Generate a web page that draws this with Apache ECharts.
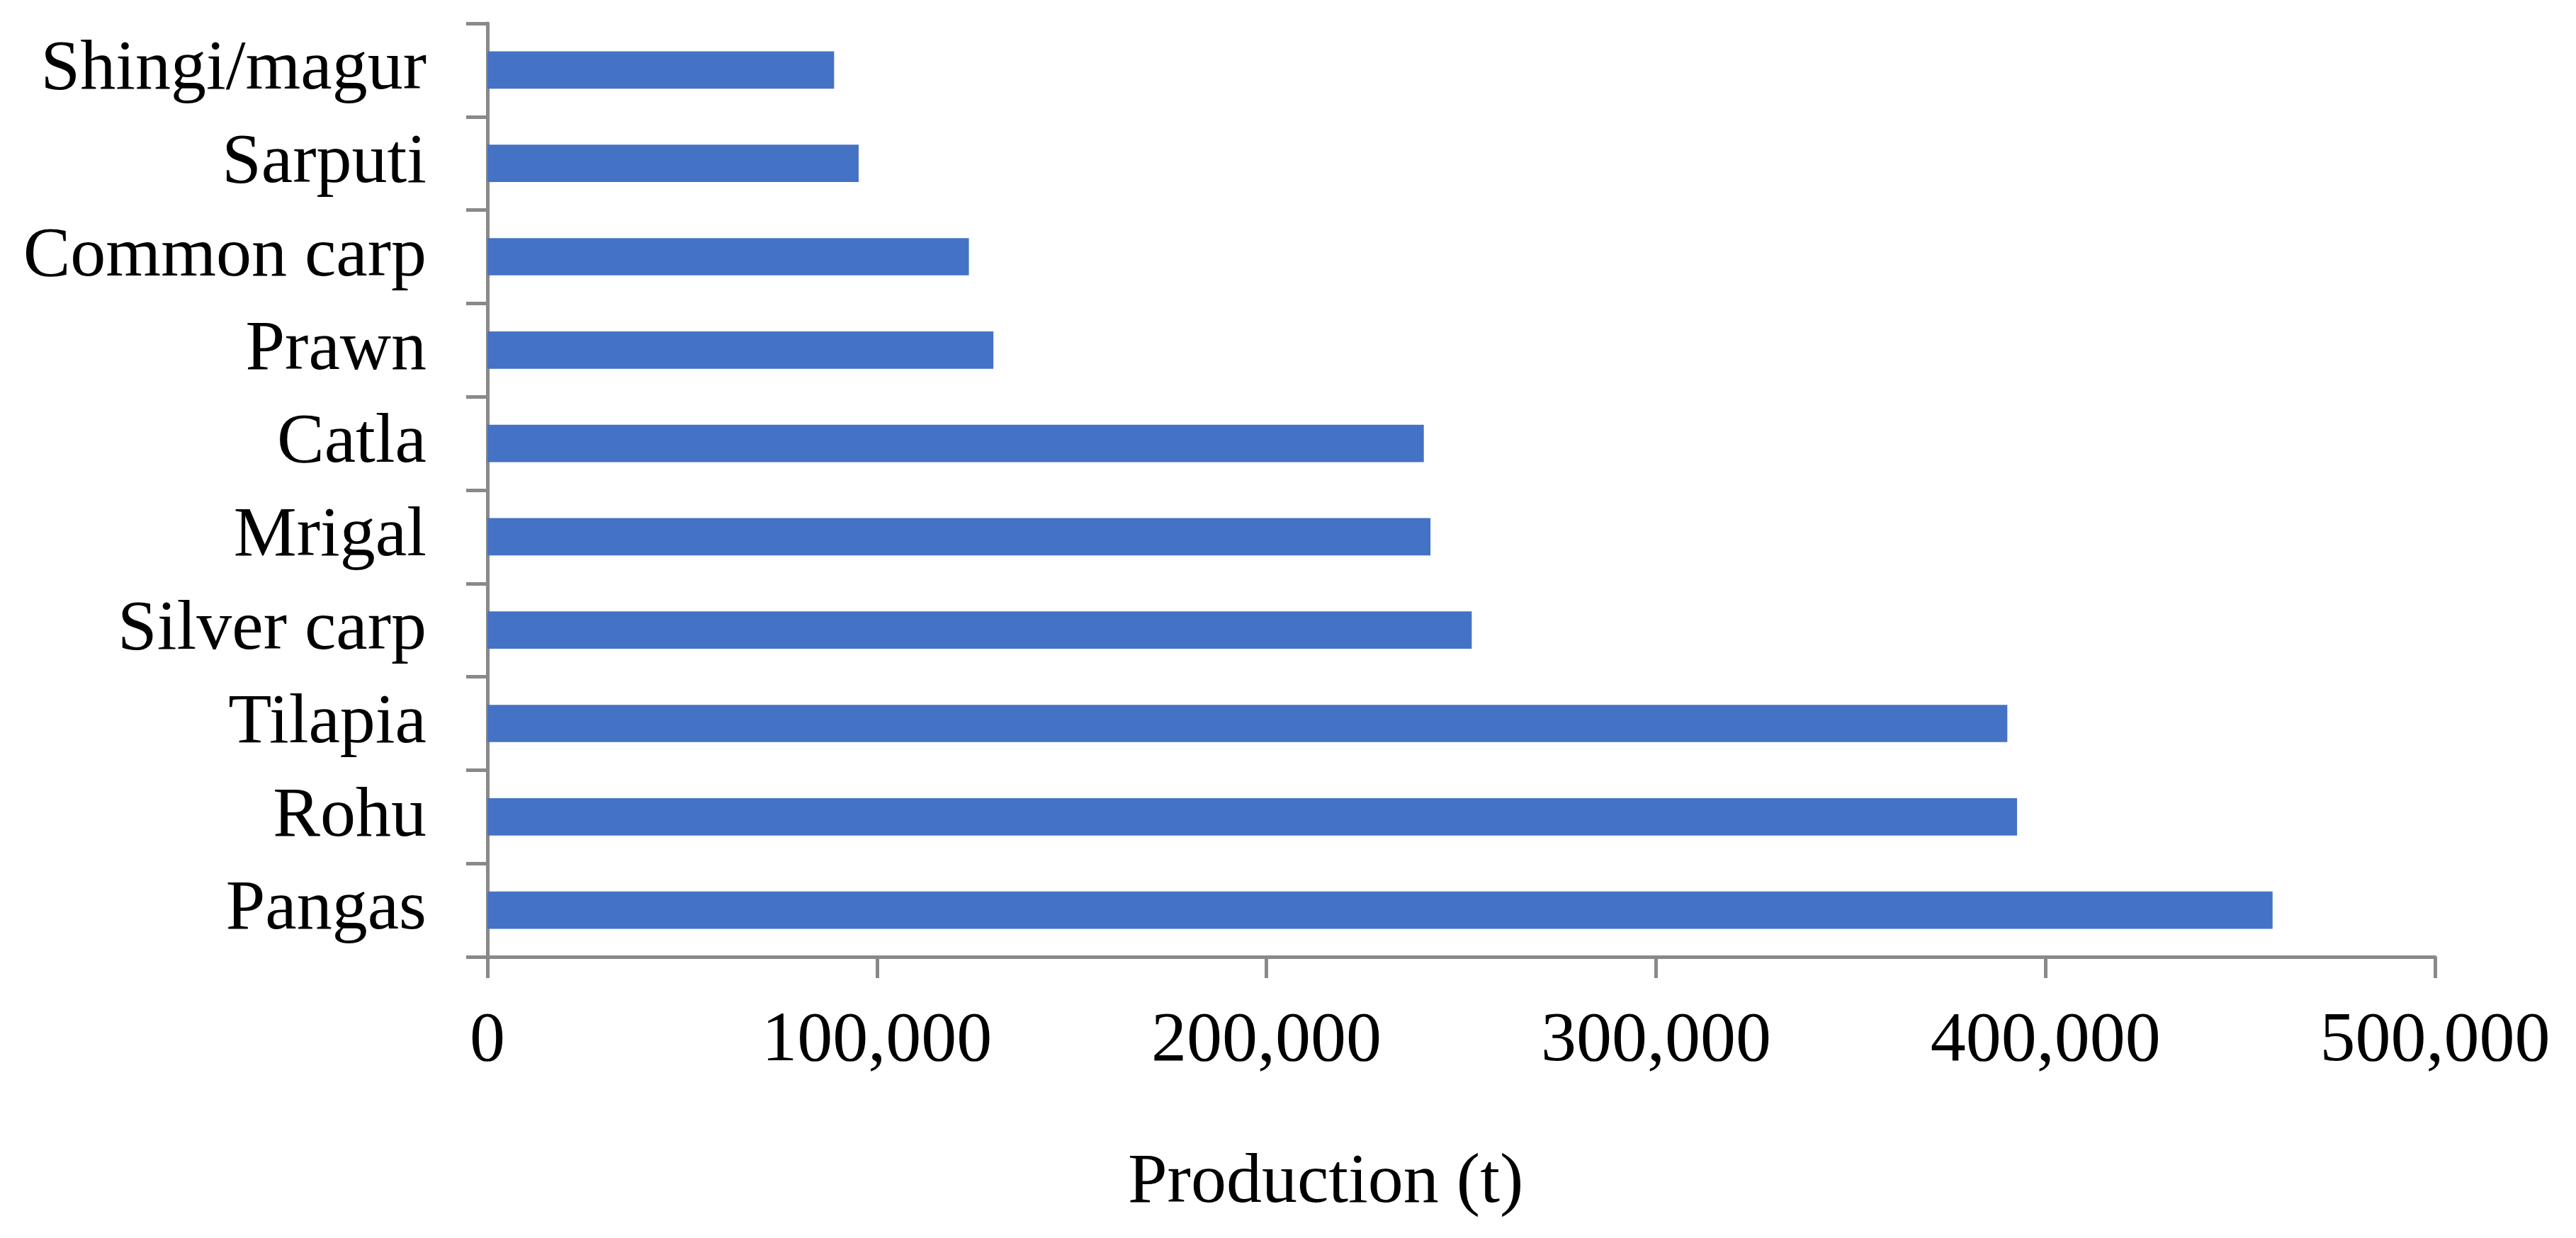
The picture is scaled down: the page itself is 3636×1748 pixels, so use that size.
<!DOCTYPE html>
<html>
<head>
<meta charset="utf-8">
<style>
html,body{margin:0;padding:0;background:#fff;}
#chart{width:3636px;height:1748px;}
</style>
<script src="https://cdn.jsdelivr.net/npm/echarts@6/dist/echarts.min.js"></script>
</head>
<body>
<div id="chart"></div>
<script>
// Categories listed bottom to top (ECharts category yAxis starts at the bottom)
const categories = ["Pangas", "Rohu", "Tilapia", "Silver carp", "Mrigal", "Catla", "Prawn", "Common carp", "Sarputi", "Shingi/magur"];
const production = [458300, 392700, 390200, 252700, 242100, 240400, 129900, 123600, 95300, 89000];
const xTicks = [0, 100000, 200000, 300000, 400000, 500000];
const axisTitle = "Production (t)";

const FONT = "'Times New Roman', 'Liberation Serif', serif";
const AXIS_COLOR = "#898989";

const chart = echarts.init(document.getElementById('chart'), null, {renderer: 'canvas'});
chart.setOption({
  backgroundColor: '#ffffff',
  animation: false,
  title: {
    text: axisTitle,
    left: 1592,
    top: 1621,
    padding: 0,
    textStyle: {fontFamily: FONT, fontSize: 100, fontWeight: 'normal', color: '#000'}
  },
  grid: {left: 688, right: 199, top: 33, bottom: 397, containLabel: false},
  xAxis: {
    type: 'value',
    min: xTicks[0],
    max: xTicks[xTicks.length - 1],
    interval: xTicks[1] - xTicks[0],
    axisLine: {show: true, lineStyle: {color: AXIS_COLOR, width: 5}},
    axisTick: {show: true, inside: false, length: 30, lineStyle: {color: AXIS_COLOR, width: 5}},
    splitLine: {show: false},
    axisLabel: {
      margin: 70,
      fontFamily: FONT, fontSize: 100, color: '#000',
      formatter: v => v.toLocaleString('en-US')
    }
  },
  yAxis: {
    type: 'category',
    data: categories,
    axisLine: {show: true, lineStyle: {color: AXIS_COLOR, width: 5}},
    axisTick: {show: true, inside: false, length: 30, alignWithLabel: false, lineStyle: {color: AXIS_COLOR, width: 5}},
    splitLine: {show: false},
    axisLabel: {margin: 86, fontFamily: FONT, fontSize: 100, color: '#000'}
  },
  series: [{
    type: 'bar',
    data: production,
    barCategoryGap: '60%',
    itemStyle: {color: '#4472C4'}
  }]
});
</script>
</body>
</html>
